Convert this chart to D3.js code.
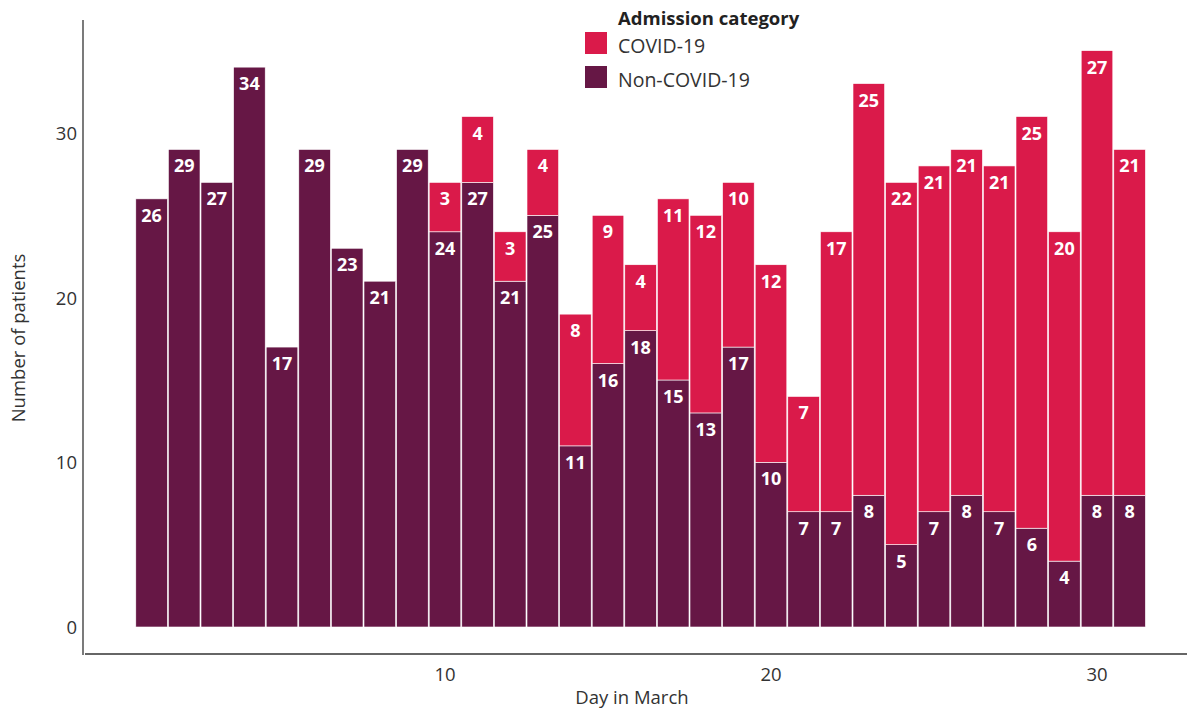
<!DOCTYPE html>
<html>
<head>
<meta charset="utf-8">
<script src="https://cdn.jsdelivr.net/npm/d3@7"></script>
<style>
  body { margin: 0; background: #fff; }
  text { font-family: "Open Sans", "Noto Sans", sans-serif; }
</style>
</head>
<body>
<svg id="chart"></svg>
<script>
const days = d3.range(1, 32);
const nonCovid = [26, 29, 27, 34, 17, 29, 23, 21, 29, 24, 27, 21, 25, 11, 16, 18, 15, 13, 17, 10, 7, 7, 8, 5, 7, 8, 7, 6, 4, 8, 8];
const covid = [0, 0, 0, 0, 0, 0, 0, 0, 0, 3, 4, 3, 4, 8, 9, 4, 11, 12, 10, 12, 7, 17, 25, 22, 21, 21, 21, 25, 20, 27, 21];
const xTicks = [10, 20, 30];
const yTicks = [0, 10, 20, 30];
const seriesNames = ["COVID-19", "Non-COVID-19"];
const seriesColors = ["#da1a4a", "#661745"];

const width = 1187, height = 709;
const svg = d3.select("#chart").attr("width", width).attr("height", height);

const x = d3.scaleLinear().domain([10, 30]).range([445, 1097]);
const y = d3.scaleLinear().domain([0, 30]).range([627, 133]);
const bw = x(1) - x(0);

const rows = days.map((d, i) => ({ day: d, non: nonCovid[i], covid: covid[i] }));
const stack = d3.stack().keys(["non", "covid"])(rows);
const color = { non: seriesColors[1], covid: seriesColors[0] };

// bars
stack.forEach(layer => {
  svg.append("g").selectAll("rect")
    .data(layer.filter(d => d[1] > d[0]))
    .enter()
    .append("rect")
    .attr("x", d => x(d.data.day) - bw / 2 + 0.5)
    .attr("width", bw - 1)
    .attr("y", d => y(d[1]))
    .attr("height", d => y(d[0]) - y(d[1]))
    .attr("fill", color[layer.key])
    .attr("stroke", "#fff")
    .attr("stroke-width", 0.6);

  svg.append("g").selectAll("text")
    .data(layer.filter(d => d[1] > d[0]))
    .enter()
    .append("text")
    .attr("x", d => x(d.data.day))
    .attr("y", d => y(d[1]) + 23)
    .attr("text-anchor", "middle")
    .attr("fill", "#fff")
    .attr("font-size", 18)
    .attr("font-weight", "bold")
    .text(d => d[1] - d[0]);
});

// axes
svg.append("line")
  .attr("x1", 83).attr("x2", 83).attr("y1", 20).attr("y2", 655)
  .attr("stroke", "#333").attr("stroke-width", 1.3);
svg.append("line")
  .attr("x1", 85).attr("x2", width).attr("y1", 654).attr("y2", 654)
  .attr("stroke", "#333").attr("stroke-width", 1.3);

svg.append("g").selectAll("text")
  .data(yTicks).enter().append("text")
  .attr("x", 77).attr("y", d => y(d) + 7)
  .attr("text-anchor", "end")
  .attr("fill", "#333").attr("font-size", 18.5)
  .text(d => d);

svg.append("g").selectAll("text")
  .data(xTicks).enter().append("text")
  .attr("x", d => x(d)).attr("y", 681)
  .attr("text-anchor", "middle")
  .attr("fill", "#333").attr("font-size", 18.5)
  .text(d => d);

svg.append("text")
  .attr("x", 632).attr("y", 704)
  .attr("text-anchor", "middle")
  .attr("fill", "#333").attr("font-size", 18.5)
  .text("Day in March");

svg.append("text")
  .attr("transform", "translate(25,338) rotate(-90)")
  .attr("text-anchor", "middle")
  .attr("fill", "#333").attr("font-size", 18.5)
  .text("Number of patients");

// legend
const legend = svg.append("g").attr("transform", "translate(585,0)");
legend.append("text")
  .attr("x", 33).attr("y", 25)
  .attr("fill", "#222").attr("font-size", 18.5).attr("font-weight", "bold")
  .text("Admission category");
seriesNames.forEach((name, i) => {
  legend.append("rect")
    .attr("x", 0).attr("y", 32 + i * 34)
    .attr("width", 22).attr("height", 22)
    .attr("fill", seriesColors[i]);
  legend.append("text")
    .attr("x", 33).attr("y", 53 + i * 34)
    .attr("fill", "#333").attr("font-size", 19.5)
    .text(name);
});
</script>
</body>
</html>
